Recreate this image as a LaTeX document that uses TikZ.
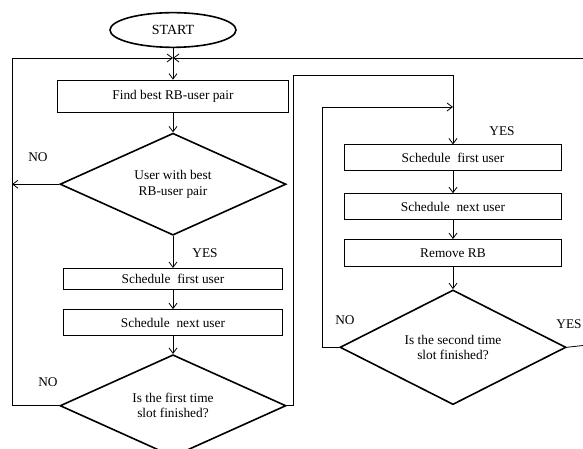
\documentclass[tikz,border=0pt]{standalone}
\usepackage{fontspec}
\setmainfont{Liberation Serif}
\usetikzlibrary{arrows.meta,positioning,shapes.geometric}

\begin{document}
\begin{tikzpicture}[
    x=0.75pt, y=-0.75pt,
    node distance=14.25pt,
    font=\fontsize{10}{11.5}\selectfont,
    procbox/.style={
      rectangle, draw=black, line width=0.6pt,
      fill=white, align=center, inner sep=1pt,
      minimum width=164pt, minimum height=19.5pt,
    },
    decbox/.style={
      diamond, draw=black, line width=1.2pt,
      align=center, inner sep=0pt, aspect=2.2,
      minimum width=169.5pt, minimum height=76.5pt,
    },
    termbox/.style={
      ellipse, draw=black, line width=1.2pt,
      font=\fontsize{10.5}{12}\selectfont,
      minimum width=94.5pt, minimum height=26pt,
    },
    arr/.style={-{Straight Barb[length=4pt,width=6pt]}, line width=0.6pt},
    lin/.style={line width=0.6pt},
    lbl/.style={inner sep=0pt},
  ]
  \useasboundingbox (0,0) rectangle (583,449);

  % Left column: first time slot
  \node[termbox] (start) at (173,30) {START};
  \coordinate (join) at (173,58);
  \node[procbox, minimum width=173pt, minimum height=24pt] (find) at (173,96) {Find best RB-user pair};
  \node[decbox, below=15pt of find] (pair) {User with best\\RB-user pair};
  \node[procbox, minimum height=16pt, below=24pt of pair] (firstL) {Schedule\ \ first user};
  \node[procbox, below=of firstL] (nextL) {Schedule\ \ next user};
  \node[decbox, below=13.5pt of nextL] (slotA) {Is the first time\\slot finished?};

  % Right column: second time slot
  \node[procbox, minimum width=163pt, minimum height=19pt] (firstR) at (453,157.5) {Schedule\ \ first user};
  \node[procbox, minimum width=163pt, below=17pt of firstR] (nextR) {Schedule\ \ next user};
  \node[procbox, minimum width=163pt, minimum height=20pt, below=of nextR] (remove) {Remove RB};
  \node[decbox, minimum height=86pt, below=17pt of remove] (slotB) {Is the second time\\slot finished?};

  % Branch labels
  \node[lbl] (noPair) at (38,157) {NO};
  \node[lbl] (yesPair) at (205,253) {YES};
  \node[lbl] (noA) at (48,382) {NO};
  \node[lbl] (yesA) at (502,131) {YES};
  \node[lbl] (noB) at (345,320) {NO};
  \node[lbl] (yesB) at (569,324) {YES};

  % Loop corners
  \coordinate (railL) at (12,58);
  \coordinate (railR) at (583,58);
  \coordinate (exitB) at (583,345.5);
  \coordinate (upA) at (293,75);
  \coordinate (topA) at (453,75);
  \coordinate (upB) at (322,107);
  \coordinate (topB) at (453,107);

  % Main flow, left column
  \draw[arr] (start) -- (find);
  \draw[arr] (find) -- (pair);
  \draw[arr] (pair) -- (firstL);
  \draw[arr] (firstL) -- (nextL);
  \draw[arr] (nextL) -- (slotA);
  \draw[arr] (pair.west) -- (pair.west -| railL);

  % Back to the top
  \draw[arr] (slotA.west) -| (railL) -- (join);
  \draw[arr] (railR) -- (join);

  % Into the second time slot
  \draw[arr] (slotA.east) -| (upA) -- (topA) -- (firstR);
  \draw[arr] (firstR) -- (nextR);
  \draw[arr] (nextR) -- (remove);
  \draw[arr] (remove) -- (slotB);
  \draw[arr] (slotB.west) -| (upB) -- (topB);
  \draw[lin] (slotB.east) -- (exitB);

\end{tikzpicture}
\end{document}
